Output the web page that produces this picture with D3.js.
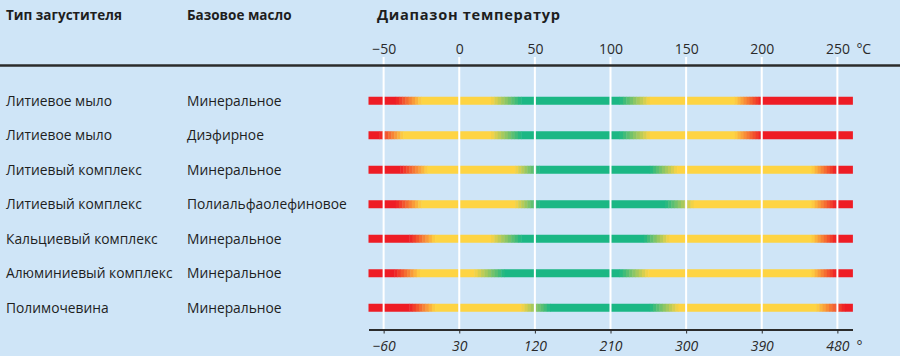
<!DOCTYPE html>
<html lang="ru">
<head>
<meta charset="utf-8">
<script src="https://cdn.jsdelivr.net/npm/d3@7/dist/d3.min.js"></script>
<style>
  html, body { margin: 0; padding: 0; background: #cfe5f7; }
  svg { display: block; font-family: "Open Sans", sans-serif; }
  .hdr { font-weight: 700; font-size: 13.5px; fill: #1e1e1e; }
  .lbl { font-size: 13.8px; fill: #1e1e1e; }
  .axis text { font-size: 14px; fill: #2a2a2a; font-family: "Open Sans", sans-serif; }
  .axis-f text { font-style: italic; }
</style>
</head>
<body>
<svg id="chart" width="900" height="356"></svg>
<script>
// Table columns
const headers = ["Тип загустителя", "Базовое масло", "Диапазон температур"];
const thickeners = [
  "Литиевое мыло",
  "Литиевое мыло",
  "Литиевый комплекс",
  "Литиевый комплекс",
  "Кальциевый комплекс",
  "Алюминиевый комплекс",
  "Полимочевина"
];
const baseOils = [
  "Минеральное",
  "Диэфирное",
  "Минеральное",
  "Полиальфаолефиновое",
  "Минеральное",
  "Минеральное",
  "Минеральное"
];

// Temperature scale (°C) and its Fahrenheit labels
const tempDomain = [-60, 260];
const celsiusTicks = [-50, 0, 50, 100, 150, 200, 250];
const fahrenheitLabels = ["−60", "30", "120", "210", "300", "390", "480"];

// Suitability along the temperature range, °C.
// Between two stops of the same grade the band is solid, otherwise it fades.
const ranges = [
  [[-60,"bad"],[-42,"bad"],[-25,"fair"],[21,"fair"],[41,"good"],[106,"good"],[126,"fair"],[182,"fair"],[200,"bad"],[260,"bad"]],
  [[-60,"bad"],[-53,"bad"],[-37,"fair"],[21,"fair"],[41,"good"],[106,"good"],[126,"fair"],[182,"fair"],[200,"bad"],[260,"bad"]],
  [[-60,"bad"],[-39,"bad"],[-21,"fair"],[37,"fair"],[53,"good"],[126,"good"],[144,"fair"],[233,"fair"],[249,"bad"],[260,"bad"]],
  [[-60,"bad"],[-42,"bad"],[-25,"fair"],[37,"fair"],[53,"good"],[136,"good"],[155,"fair"],[233,"fair"],[249,"bad"],[260,"bad"]],
  [[-60,"bad"],[-33,"bad"],[-16,"fair"],[21,"fair"],[41,"good"],[122,"good"],[139,"fair"],[233,"fair"],[249,"bad"],[260,"bad"]],
  [[-60,"bad"],[-43,"bad"],[-26,"fair"],[10,"fair"],[30,"good"],[106,"good"],[125,"fair"],[233,"fair"],[249,"bad"],[260,"bad"]],
  [[-60,"bad"],[-33,"bad"],[-16,"fair"],[41,"fair"],[60,"good"],[126,"good"],[145,"fair"],[236,"fair"],[255,"bad"],[260,"bad"]]
];

const gradeColor = { bad: "#ee1c25", fair: "#fed443", good: "#1bb784" };

const svg = d3.select("#chart");

const x = d3.scaleLinear().domain(tempDomain).range([368.5, 852.5]);
const y = d3.scaleBand()
  .domain(d3.range(thickeners.length))
  .range([83.5, 325])
  .paddingInner(0);

const barH = 8;
const topAxisY = 65.5;
const bottomAxisY = 329.5;

// Column headers
const headerX = [6, 187, 377];
svg.selectAll("text.hdr")
  .data(headers)
  .join("text")
  .attr("class", "hdr")
  .attr("x", (d, i) => headerX[i])
  .attr("y", 20)
  .text(d => d);
// the range header is set slightly larger
svg.selectAll("text.hdr").filter((d, i) => i === 2)
  .style("font-size", "14.6px")
  .attr("textLength", 183)
  .attr("lengthAdjust", "spacing");

// Row labels
svg.selectAll("text.thick")
  .data(thickeners)
  .join("text")
  .attr("class", "lbl thick")
  .attr("x", 6)
  .attr("y", (d, i) => y(i) + y.bandwidth() / 2 + 5)
  .text(d => d);

svg.selectAll("text.oil")
  .data(baseOils)
  .join("text")
  .attr("class", "lbl oil")
  .attr("x", 187)
  .attr("y", (d, i) => y(i) + y.bandwidth() / 2 + 5)
  .text(d => d);

// Bars: solid runs and stepped fades between grades
const bars = svg.append("g");
ranges.forEach((stops, row) => {
  const yc = y(row) + y.bandwidth() / 2;
  const pieces = [];
  for (let k = 0; k < stops.length - 1; k++) {
    const [t0, g0] = stops[k];
    const [t1, g1] = stops[k + 1];
    const x0 = x(t0), x1 = x(t1);
    if (g0 === g1) {
      pieces.push({ x0, x1, c: gradeColor[g0] });
    } else {
      const interp = d3.interpolateRgb(gradeColor[g0], gradeColor[g1]);
      const n = Math.max(1, Math.round((x1 - x0) / 3.2));
      for (let s = 0; s < n; s++) {
        pieces.push({
          x0: x0 + (x1 - x0) * s / n,
          x1: x0 + (x1 - x0) * (s + 1) / n,
          c: interp((s + 0.5) / n)
        });
      }
    }
  }
  bars.append("g")
    .selectAll("rect")
    .data(pieces)
    .join("rect")
    .attr("x", d => d.x0)
    .attr("width", d => d.x1 - d.x0 + 0.4)
    .attr("y", yc - barH / 2)
    .attr("height", barH)
    .attr("fill", d => d.c);
});

// White grid lines over the bars
svg.append("g")
  .selectAll("line")
  .data(celsiusTicks)
  .join("line")
  .attr("x1", d => x(d))
  .attr("x2", d => x(d))
  .attr("y1", 57)
  .attr("y2", bottomAxisY)
  .attr("stroke", "#ffffff")
  .attr("stroke-width", 2);

// Top rule across the table
svg.append("line")
  .attr("x1", 0).attr("x2", 900)
  .attr("y1", topAxisY).attr("y2", topAxisY)
  .attr("stroke", "#2b2b2b")
  .attr("stroke-width", 2.5);

// Celsius axis (labels only)
const topAxis = d3.axisTop(x)
  .tickValues(celsiusTicks)
  .tickSize(0)
  .tickPadding(0)
  .tickFormat(d => d < 0 ? "−" + Math.abs(d) : String(d));
const gTop = svg.append("g")
  .attr("class", "axis")
  .attr("transform", `translate(0,54)`)
  .call(topAxis);
gTop.select(".domain").remove();
gTop.selectAll("text").attr("dy", 0);
svg.append("text")
  .attr("x", x(250) + 19)
  .attr("y", 54)
  .style("font-size", "14px")
  .style("fill", "#2a2a2a")
  .text("°C");

// Fahrenheit axis
const bottomAxis = d3.axisBottom(x)
  .tickValues(celsiusTicks)
  .tickSize(4)
  .tickSizeOuter(0)
  .tickPadding(4)
  .tickFormat((d, i) => fahrenheitLabels[i]);
const gBot = svg.append("g")
  .attr("class", "axis axis-f")
  .attr("transform", `translate(0,${bottomAxisY})`)
  .call(bottomAxis);
gBot.select(".domain").attr("stroke", "#2b2b2b").attr("stroke-width", 2);
gBot.selectAll(".tick line").attr("stroke", "#2b2b2b").attr("stroke-width", 1);
gBot.selectAll("text").attr("dy", 0).attr("y", 21);
svg.append("text")
  .attr("x", x(250) + 19)
  .attr("y", bottomAxisY + 21)
  .style("font-size", "14px")
  .style("font-style", "italic")
  .style("fill", "#2a2a2a")
  .text("°");
</script>
</body>
</html>
